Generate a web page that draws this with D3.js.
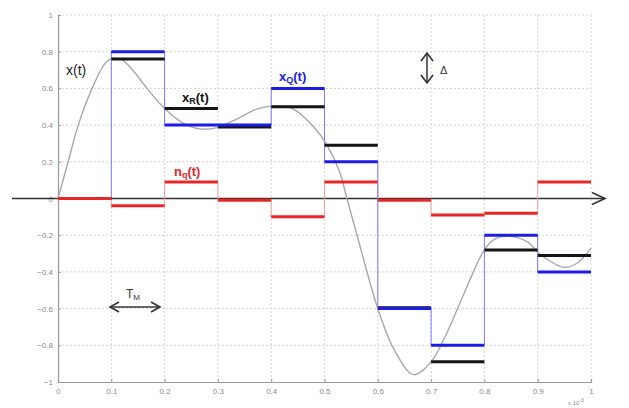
<!DOCTYPE html>
<html>
<head>
<meta charset="utf-8">
<script src="https://cdn.jsdelivr.net/npm/d3@7"></script>
<style>
  body { margin: 0; background: #fff; }
  svg { display: block; }
  .tick text { font-family: Arial, "Liberation Sans", sans-serif; }
</style>
</head>
<body>
<div id="chart"></div>
<script>
// sampling instants (start of each hold interval), in ms*1e-3 units
var sampleT = [0, 0.1, 0.2, 0.3, 0.4, 0.5, 0.6, 0.7, 0.8, 0.9];
var tEnd = 1.0;
// reconstructed (held) samples x_R(t)
var xR = [0, 0.76, 0.49, 0.39, 0.50, 0.29, -0.595, -0.89, -0.28, -0.31];
// quantized samples x_Q(t)
var xQ = [0, 0.80, 0.40, 0.40, 0.60, 0.20, -0.60, -0.80, -0.20, -0.40];
// quantization noise n_q(t)
var nq = [0, -0.04, 0.09, -0.01, -0.10, 0.09, -0.01, -0.09, -0.08, 0.09];
// analog signal x(t)
var curveT = [0, 0.019, 0.038, 0.064, 0.088, 0.103, 0.12, 0.14, 0.167, 0.2, 0.235, 0.27, 0.3, 0.34, 0.375, 0.41, 0.44, 0.48, 0.505, 0.529, 0.542, 0.561, 0.6, 0.63, 0.667, 0.7, 0.73, 0.76, 0.8, 0.82, 0.842, 0.88, 0.905, 0.95, 0.975, 1.0];
var curveX = [0, 0.20, 0.40, 0.60, 0.735, 0.765, 0.755, 0.70, 0.60, 0.49, 0.41, 0.378, 0.388, 0.44, 0.49, 0.505, 0.49, 0.39, 0.29, 0.14, 0.0, -0.20, -0.6, -0.82, -0.96, -0.89, -0.73, -0.53, -0.28, -0.22, -0.205, -0.235, -0.305, -0.375, -0.35, -0.27];
var xTicks = [0, 0.1, 0.2, 0.3, 0.4, 0.5, 0.6, 0.7, 0.8, 0.9, 1];
var yTicks = [-1, -0.8, -0.6, -0.4, -0.2, 0, 0.2, 0.4, 0.6, 0.8, 1];

var width = 629, height = 408;
var x = d3.scaleLinear().domain([0, 1]).range([58, 591]);
var y = d3.scaleLinear().domain([-1, 1]).range([382, 15]);

var svg = d3.select('#chart').append('svg')
    .attr('width', width)
    .attr('height', height);

var defs = svg.append('defs');
defs.append('filter').attr('id', 'soft')
    .append('feGaussianBlur').attr('stdDeviation', 0.35);

// grid
var grid = svg.append('g').attr('class', 'grid');
grid.selectAll('line.v').data(xTicks.slice(1)).enter().append('line')
    .attr('x1', function(d) { return x(d); })
    .attr('x2', function(d) { return x(d); })
    .attr('y1', y(1)).attr('y2', y(-1))
    .attr('stroke', '#d4d4d4').attr('stroke-dasharray', '2,2');
grid.selectAll('line.h').data(yTicks.slice(1)).enter().append('line')
    .attr('x1', x(0)).attr('x2', x(1))
    .attr('y1', function(d) { return y(d); })
    .attr('y2', function(d) { return y(d); })
    .attr('stroke', '#d4d4d4').attr('stroke-dasharray', '2,2');

// axes
var fmt = function(d) { return d3.format('')(+d.toFixed(1)); };
var yAxis = svg.append('g')
    .attr('transform', 'translate(' + x(0) + ',0)')
    .call(d3.axisLeft(y).tickValues(yTicks).tickSize(-3).tickPadding(5).tickFormat(fmt));
var xAxis = svg.append('g')
    .attr('transform', 'translate(0,' + y(-1) + ')')
    .call(d3.axisBottom(x).tickValues(xTicks).tickSize(-3).tickPadding(6).tickFormat(fmt));
[xAxis, yAxis].forEach(function(a) {
    a.select('.domain').attr('stroke', '#9a9a9a').attr('stroke-width', 1.2);
    a.selectAll('.tick line').attr('stroke', '#9a9a9a');
    a.selectAll('.tick text').attr('fill', '#8a8a8a').attr('font-size', 8);
});

var mult = svg.append('text')
    .attr('x', 568).attr('y', 405)
    .attr('font-family', 'Arial, sans-serif')
    .attr('font-size', 6).attr('fill', '#8a8a8a')
    .text('x 10');
mult.append('tspan').attr('dy', -3).attr('font-size', 5).text('-3');

// zero axis with arrow
svg.append('line')
    .attr('x1', 12).attr('x2', 605)
    .attr('y1', y(0)).attr('y2', y(0))
    .attr('stroke', '#333').attr('stroke-width', 1.6);
svg.append('path')
    .attr('d', 'M592,' + (y(0) - 6) + 'L605,' + y(0) + 'L592,' + (y(0) + 6))
    .attr('fill', 'none').attr('stroke', '#333').attr('stroke-width', 1.6);

// helpers
function stepPoints(vals) {
    var pts = sampleT.map(function(t, i) { return [t, vals[i]]; });
    pts.push([tEnd, vals[vals.length - 1]]);
    return pts;
}
var stepLine = d3.line()
    .x(function(d) { return x(d[0]); })
    .y(function(d) { return y(d[1]); })
    .curve(d3.curveStepAfter);

function segments(g, vals, color, w) {
    g.selectAll('line.seg').data(vals).enter().append('line')
        .attr('class', 'seg')
        .attr('x1', function(d, i) { return x(sampleT[i]); })
        .attr('x2', function(d, i) { return x(i + 1 < sampleT.length ? sampleT[i + 1] : tEnd); })
        .attr('y1', function(d) { return y(d); })
        .attr('y2', function(d) { return y(d); })
        .attr('stroke', color).attr('stroke-width', w);
}

var marks = svg.append('g').attr('filter', 'url(#soft)');

// thin step outlines
marks.append('path').datum(stepPoints(nq))
    .attr('d', stepLine).attr('fill', 'none')
    .attr('stroke', '#f4a0a0').attr('stroke-width', 1);
marks.append('path').datum(stepPoints(xQ))
    .attr('d', stepLine).attr('fill', 'none')
    .attr('stroke', '#7a7aff').attr('stroke-width', 1);

// analog signal
var curveLine = d3.line()
    .x(function(d) { return x(d[0]); })
    .y(function(d) { return y(d[1]); })
    .curve(d3.curveCatmullRom.alpha(0.5));
marks.append('path').datum(curveT.map(function(t, i) { return [t, curveX[i]]; }))
    .attr('d', curveLine).attr('fill', 'none')
    .attr('stroke', '#a8a8a8').attr('stroke-width', 1.4);

// held levels
segments(marks.append('g'), xR, '#151515', 3);
segments(marks.append('g'), xQ, '#1a1ae6', 3);
segments(marks.append('g'), nq, '#e82828', 3);

// labels
var font = 'Arial, "Liberation Sans", sans-serif';
svg.append('text').attr('x', 66).attr('y', 75)
    .attr('font-family', font).attr('font-size', 14).attr('fill', '#222')
    .text('x(t)');

function subLabel(tx, ty, main, sub, color) {
    var t = svg.append('text').attr('x', tx).attr('y', ty)
        .attr('font-family', font).attr('font-size', 13)
        .attr('font-weight', 'bold').attr('fill', color);
    t.append('tspan').text(main);
    t.append('tspan').attr('font-size', 9).attr('dy', 2).text(sub);
    t.append('tspan').attr('dy', -2).text('(t)');
}
subLabel(182, 102, 'x', 'R', '#111');
subLabel(279, 81, 'x', 'Q', '#1a1ae6');
subLabel(174, 176, 'n', 'q', '#e82828');

// Delta indicator
var ax = 427;
svg.append('line').attr('x1', ax).attr('x2', ax).attr('y1', 53).attr('y2', 83)
    .attr('stroke', '#333').attr('stroke-width', 1.5);
svg.append('path')
    .attr('d', 'M' + (ax - 6) + ',61L' + ax + ',53L' + (ax + 6) + ',61M' + (ax - 6) + ',75L' + ax + ',83L' + (ax + 6) + ',75')
    .attr('fill', 'none').attr('stroke', '#333').attr('stroke-width', 1.6);
svg.append('text').attr('x', 440).attr('y', 74)
    .attr('font-family', font).attr('font-size', 11).attr('fill', '#333')
    .text('\u0394');

// T_M indicator
var ay = 307;
svg.append('line').attr('x1', 110).attr('x2', 160).attr('y1', ay).attr('y2', ay)
    .attr('stroke', '#333').attr('stroke-width', 1.5);
svg.append('path')
    .attr('d', 'M119,' + (ay - 5) + 'L110,' + ay + 'L119,' + (ay + 5) + 'M151,' + (ay - 5) + 'L160,' + ay + 'L151,' + (ay + 5))
    .attr('fill', 'none').attr('stroke', '#333').attr('stroke-width', 1.6);
var tm = svg.append('text').attr('x', 126).attr('y', 298)
    .attr('font-family', font).attr('font-size', 12).attr('fill', '#333');
tm.append('tspan').text('T');
tm.append('tspan').attr('font-size', 8).attr('dy', 2).text('M');
</script>
</body>
</html>
